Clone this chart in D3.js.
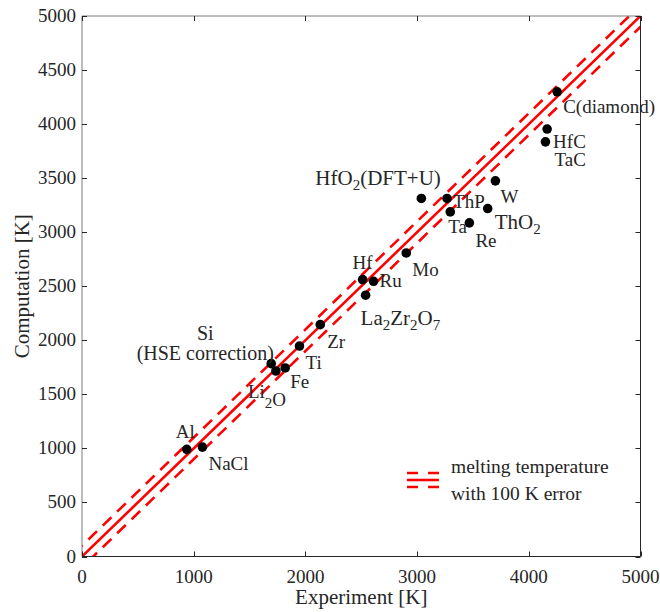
<!DOCTYPE html>
<html lang="en">
<head>
  <meta charset="UTF-8">
  <title>Melting temperature: computation vs experiment</title>
  <script src="https://d3js.org/d3.v7.min.js"></script>
</head>
<body style="margin: 0; background: #fff;">
<div id="chart"></div>
<script>
  // data
  const materials = ["Al", "NaCl", "Si", "Li2O", "Fe", "Ti", "Zr", "La2Zr2O7", "Hf", "Ru",
    "Mo", "HfO2", "ThP", "Ta", "Re", "ThO2", "W", "HfC", "TaC", "C"];
  const experiment = [938, 1078, 1694, 1736, 1819, 1947, 2133, 2539, 2512, 2610,
    2903, 3038, 3268, 3297, 3468, 3632, 3701, 4164, 4149, 4254];
  const computation = [991, 1012, 1784, 1716, 1744, 1947, 2145, 2417, 2562, 2546,
    2808, 3312, 3312, 3188, 3086, 3219, 3475, 3954, 3836, 4299];
  const xTicks = [0, 1000, 2000, 3000, 4000, 5000];
  const yTicks = [0, 500, 1000, 1500, 2000, 2500, 3000, 3500, 4000, 4500, 5000];
  const errorOffsets = [-100, 0, 100];   // K, lines y = x + offset
  const legendLines = ["melting temperature", "with 100 K error"];

  // label text (tspans: [text, kind]) and placement relative to the dot
  // tex: true -> the larger math-style labels of the original
  const labels = {
    "Al":       { parts: [["Al"]], dx: -11, dy: -11 },
    "NaCl":     { parts: [["NaCl"]], dx: 6, dy: 23 },
    "Si":       { lines: ["Si", "(HSE correction)"], cx: -66, dy: [-24, -4], size: 20 },
    "Li2O":     { parts: [["Li"], ["2", "li"], ["O", "lo"]], dx: -28, dy: 27 },
    "Fe":       { parts: [["Fe"]], dx: 5, dy: 20 },
    "Ti":       { parts: [["Ti"]], dx: 6, dy: 23 },
    "Zr":       { parts: [["Zr"]], dx: 7, dy: 23 },
    "La2Zr2O7": { parts: [["La"], ["2", "sub"], ["Zr"], ["2", "sub"], ["O"], ["7", "sub"]], dx: -5, dy: 30, tex: true },
    "Hf":       { parts: [["Hf"]], dx: -10, dy: -11 },
    "Ru":       { parts: [["Ru"]], dx: 6, dy: 6 },
    "Mo":       { parts: [["Mo"]], dx: 6, dy: 23 },
    "HfO2":     { parts: [["HfO"], ["2", "sub"], ["(DFT+U)"]], dx: -106, dy: -13, tex: true },
    "ThP":      { parts: [["ThP"]], dx: 6, dy: 10 },
    "Ta":       { parts: [["Ta"]], dx: -2, dy: 21 },
    "Re":       { parts: [["Re"]], dx: 6, dy: 24 },
    "ThO2":     { parts: [["ThO"], ["2", "sub"]], dx: 7, dy: 20, tex: true },
    "W":        { parts: [["W"]], dx: 5, dy: 22 },
    "HfC":      { parts: [["HfC"]], dx: 6, dy: 19 },
    "TaC":      { parts: [["TaC"]], dx: 9, dy: 24 },
    "C":        { parts: [["C(diamond)"]], dx: 6, dy: 21 }
  };

  const width = 660, height = 612;
  const plotL = 82, plotR = 640.5, plotT = 16, plotB = 556.5;
  const font = "'Liberation Serif', 'Times New Roman', serif";
  const ink = "#262626";
  const red = "#ff0000";

  const svg = d3.select("#chart").append("svg")
    .attr("width", width)
    .attr("height", height)
    .style("font-family", font);

  const x = d3.scaleLinear().domain([0, 5000]).range([plotL, plotR]);
  const y = d3.scaleLinear().domain([0, 5000]).range([plotB, plotT]);

  // clip for the lines
  svg.append("clipPath").attr("id", "plotClip")
    .append("rect")
    .attr("x", plotL).attr("y", plotT)
    .attr("width", plotR - plotL).attr("height", plotB - plotT);

  // y = x lines with +/- 100 K
  const diag = d3.line().x(d => x(d[0])).y(d => y(d[1]));
  svg.append("g").attr("clip-path", "url(#plotClip)")
    .selectAll("path")
    .data(errorOffsets)
    .join("path")
    .attr("d", o => diag([[-200, -200 + o], [5200, 5200 + o]]))
    .attr("fill", "none")
    .attr("stroke", red)
    .attr("stroke-width", 2.6)
    .attr("stroke-dasharray", o => o === 0 ? null : "12,8");

  // axes (box with inward ticks on all sides)
  const tickLen = 5;
  const axisG = svg.append("g").attr("stroke", ink).attr("fill", "none");
  axisG.append("line").attr("x1", plotL).attr("x2", plotL).attr("y1", plotT).attr("y2", plotB).attr("stroke", "#7a7a7a");
  axisG.append("line").attr("x1", plotL).attr("x2", plotR).attr("y1", plotT).attr("y2", plotT).attr("stroke", "#7a7a7a");
  axisG.append("line").attr("x1", plotR).attr("x2", plotR).attr("y1", plotT).attr("y2", plotB);
  axisG.append("line").attr("x1", plotL).attr("x2", plotR).attr("y1", plotB).attr("y2", plotB);

  xTicks.forEach(t => {
    const px = Math.round(x(t)) + 0.5;
    axisG.append("line").attr("x1", px).attr("x2", px).attr("y1", plotB).attr("y2", plotB - tickLen);
    axisG.append("line").attr("x1", px).attr("x2", px).attr("y1", plotT).attr("y2", plotT + tickLen);
  });
  yTicks.forEach(t => {
    const py = Math.round(y(t)) + 0.5;
    axisG.append("line").attr("x1", plotL).attr("x2", plotL + tickLen).attr("y1", py).attr("y2", py);
    axisG.append("line").attr("x1", plotR).attr("x2", plotR - tickLen).attr("y1", py).attr("y2", py);
  });

  svg.append("g").selectAll("text")
    .data(xTicks).join("text")
    .attr("x", d => x(d))
    .attr("y", plotB + 26)
    .attr("text-anchor", "middle")
    .attr("font-size", 19)
    .attr("fill", ink)
    .text(d => d);

  svg.append("g").selectAll("text")
    .data(yTicks).join("text")
    .attr("x", plotL - 6)
    .attr("y", d => y(d) + 6)
    .attr("text-anchor", "end")
    .attr("font-size", 19)
    .attr("fill", ink)
    .text(d => d);

  svg.append("text")
    .attr("x", (plotL + plotR) / 2)
    .attr("y", 604)
    .attr("text-anchor", "middle")
    .attr("font-size", 21)
    .attr("fill", ink)
    .text("Experiment [K]");

  svg.append("text")
    .attr("transform", `translate(29, ${(plotT + plotB) / 2}) rotate(-90)`)
    .attr("text-anchor", "middle")
    .attr("font-size", 21)
    .attr("fill", ink)
    .text("Computation [K]");

  // points
  const points = materials.map((m, i) => ({ name: m, ex: experiment[i], co: computation[i] }));

  svg.append("g").selectAll("circle")
    .data(points).join("circle")
    .attr("cx", d => x(d.ex))
    .attr("cy", d => y(d.co))
    .attr("r", 4.8)
    .attr("fill", "#000");

  // point labels
  const labelG = svg.append("g").attr("font-size", 19).attr("fill", ink);
  points.forEach(p => {
    const lab = labels[p.name];
    const px = x(p.ex), py = y(p.co);
    if (lab.lines) {
      lab.lines.forEach((ln, k) => {
        labelG.append("text")
          .attr("x", px + lab.cx)
          .attr("y", py + lab.dy[k])
          .attr("text-anchor", "middle")
          .attr("font-size", lab.size)
          .text(ln);
      });
      return;
    }
    const t = labelG.append("text").attr("x", px + lab.dx).attr("y", py + lab.dy);
    const base = lab.tex ? 21 : 19;
    let shift = 0;
    lab.parts.forEach(([s, kind]) => {
      let target = 0, size = base;
      if (kind === "sub") { target = 5; size = 15; }
      if (kind === "li") { target = 10; size = 15; }
      if (kind === "lo") { target = 8; }
      t.append("tspan")
        .attr("dy", target - shift)
        .attr("font-size", size)
        .text(s);
      shift = target;
    });
  });

  // legend
  const lgX0 = 407, lgX1 = 439, lgY = 480;
  svg.append("g").selectAll("line")
    .data(errorOffsets).join("line")
    .attr("x1", lgX0).attr("x2", lgX1)
    .attr("y1", o => lgY - o * 0.07)
    .attr("y2", o => lgY - o * 0.07)
    .attr("stroke", red)
    .attr("stroke-width", 2.6)
    .attr("stroke-dasharray", o => o === 0 ? null : "11,10");

  svg.append("g").selectAll("text")
    .data(legendLines).join("text")
    .attr("x", 451)
    .attr("y", (d, i) => 473 + i * 27)
    .attr("font-size", 19.5)
    .attr("fill", ink)
    .text(d => d);
</script>
</body>
</html>
